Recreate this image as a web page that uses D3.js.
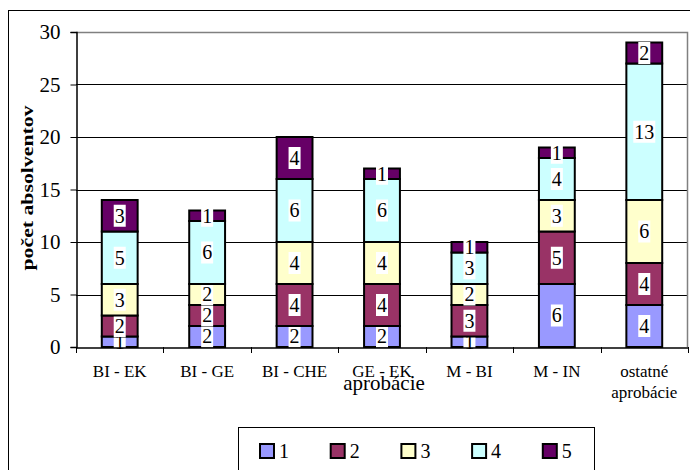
<!DOCTYPE html>
<html>
<head>
<meta charset="utf-8">
<script src="https://cdn.jsdelivr.net/npm/d3@7"></script>
<style>
    body { margin: 0; background: #fff; }
</style>
</head>
<body>
<div id="chart"></div>
<script>
// kategórie (aprobácie) a hodnoty pre sériu 1..5
const categories = ["BI - EK", "BI - GE", "BI - CHE", "GE - EK", "M - BI", "M - IN", "ostatné aprobácie"];
const seriesNames = ["1", "2", "3", "4", "5"];
const s1 = [1, 2, 2, 2, 1, 6, 4];
const s2 = [2, 2, 4, 4, 3, 5, 4];
const s3 = [3, 2, 4, 4, 2, 3, 6];
const s4 = [5, 6, 6, 6, 3, 4, 13];
const s5 = [3, 1, 4, 1, 1, 1, 2];
const yTicks = [0, 5, 10, 15, 20, 25, 30];
const colors = ["#9999FF", "#993366", "#FFFFCC", "#CCFFFF", "#660066"];

const FONT = "'Liberation Serif', 'Times New Roman', serif";

function drawChart() {
    const width = 690;
    const height = 470;
    const margin = { top: 32, bottom: 123, left: 76, right: 2 };

    const data = categories.map((c, i) => ({
        cat: c, "1": s1[i], "2": s2[i], "3": s3[i], "4": s4[i], "5": s5[i]
    }));

    const svg = d3.select("#chart")
        .append("svg")
        .attr("width", width)
        .attr("height", height)
        .attr("font-family", FONT);

    // vonkajší rámik
    svg.append("rect")
        .attr("x", 8.5).attr("y", 10.5)
        .attr("width", 700).attr("height", 500)
        .attr("fill", "none").attr("stroke", "#000").attr("stroke-width", 1);

    const x = d3.scaleBand()
        .domain(categories)
        .range([margin.left, width - margin.right]);

    const y = d3.scaleLinear()
        .domain([0, 30])
        .range([height - margin.bottom, margin.top]);

    const x0 = margin.left, x1 = width - margin.right;

    // mriežka
    svg.append("g")
        .selectAll("line")
        .data(yTicks.filter(t => t > 0 && t < 30))
        .enter().append("line")
        .attr("x1", x0).attr("x2", x1)
        .attr("y1", d => Math.round(y(d)) + 0.5)
        .attr("y2", d => Math.round(y(d)) + 0.5)
        .attr("stroke", "#000").attr("stroke-width", 1);

    // okraj plochy grafu (sivý)
    svg.append("path")
        .attr("d", `M${x0},${Math.round(y(30)) + 0.5}H${x1 - 0.5}V${Math.round(y(0))}`)
        .attr("fill", "none").attr("stroke", "#808080").attr("stroke-width", 1.5);

    const stack = d3.stack().keys(seriesNames)(data);

    const barW = x.bandwidth() * 0.41;

    const layers = svg.selectAll(".layer")
        .data(stack)
        .enter().append("g")
        .attr("class", "layer")
        .attr("fill", (d, i) => colors[i]);

    layers.selectAll("rect")
        .data(d => d)
        .enter().append("rect")
        .attr("x", d => x(d.data.cat) + (x.bandwidth() - barW) / 2)
        .attr("y", d => y(d[1]))
        .attr("width", barW)
        .attr("height", d => y(d[0]) - y(d[1]))
        .attr("stroke", "#000")
        .attr("stroke-width", 2);

    // osi
    const yAxis = svg.append("g")
        .attr("transform", `translate(${x0 + 0.5},0)`)
        .call(d3.axisLeft(y).tickValues(yTicks).tickSize(6).tickPadding(10));
    yAxis.attr("font-family", null);
    yAxis.select(".domain").attr("stroke", "#000").attr("stroke-width", 1.5);
    yAxis.selectAll("text").style("font-size", "21px").style("font-family", FONT).attr("fill", "#000");

    const xAxis = svg.append("g")
        .attr("transform", `translate(0,${Math.round(y(0)) + 0.5})`)
        .call(d3.axisBottom(x).tickSize(0).tickFormat(""));
    xAxis.select(".domain").attr("stroke", "#000").attr("stroke-width", 1.5);

    // značky medzi kategóriami
    svg.append("g")
        .selectAll("line")
        .data(categories.concat(["end"]))
        .enter().append("line")
        .attr("x1", (d, i) => Math.round(x0 + i * x.step()) + 0.5)
        .attr("x2", (d, i) => Math.round(x0 + i * x.step()) + 0.5)
        .attr("y1", y(0)).attr("y2", y(0) + 6)
        .attr("stroke", "#000");

    // popisy kategórií
    const labels = svg.append("g")
        .selectAll("text")
        .data(categories)
        .enter().append("text")
        .attr("x", d => x(d) + x.bandwidth() / 2)
        .attr("y", 377)
        .attr("text-anchor", "middle")
        .style("font-family", FONT)
        .style("font-size", "17px");
    labels.each(function(d) {
        const parts = d === "ostatné aprobácie" ? ["ostatné", "aprobácie"] : [d];
        parts.forEach((p, i) => {
            d3.select(this).append("tspan")
                .attr("x", x(d) + x.bandwidth() / 2)
                .attr("dy", i === 0 ? 0 : 21)
                .text(p);
        });
    });

    // popisy hodnôt s bielym pozadím
    const valueLabels = layers.selectAll(".vl")
        .data(d => d)
        .enter().append("g")
        .attr("class", "vl")
        .attr("transform", d => `translate(${x(d.data.cat) + x.bandwidth() / 2},${(y(d[0]) + y(d[1])) / 2})`);

    valueLabels.append("rect")
        .attr("x", d => -String(d[1] - d[0]).length * 5 - 1)
        .attr("y", -11)
        .attr("width", d => String(d[1] - d[0]).length * 10 + 2)
        .attr("height", 22)
        .attr("fill", "#fff");

    valueLabels.append("text")
        .attr("text-anchor", "middle")
        .attr("dy", "0.34em")
        .attr("fill", "#000")
        .style("font-family", FONT)
        .style("font-size", "20px")
        .text(d => d[1] - d[0]);

    // názvy osí
    svg.append("text")
        .attr("transform", "rotate(-90)")
        .attr("x", -188)
        .attr("y", 33)
        .attr("text-anchor", "middle")
        .attr("textLength", 165)
        .attr("lengthAdjust", "spacingAndGlyphs")
        .style("font-family", FONT)
        .style("font-size", "17px")
        .style("font-weight", "bold")
        .text("počet absolventov");

    svg.append("text")
        .attr("x", (x0 + x1) / 2 + 2)
        .attr("y", 390)
        .attr("text-anchor", "middle")
        .style("font-family", FONT)
        .style("font-size", "21px")
        .text("aprobácie");

    // legenda
    const legend = svg.append("g");
    legend.append("rect")
        .attr("x", 238.5).attr("y", 427.5)
        .attr("width", 356).attr("height", 60)
        .attr("fill", "#fff").attr("stroke", "#000");

    const items = legend.selectAll(".item")
        .data(seriesNames)
        .enter().append("g")
        .attr("class", "item")
        .attr("transform", (d, i) => `translate(${260 + i * 70.7},451)`);

    items.append("rect")
        .attr("x", 0).attr("y", -7)
        .attr("width", 14).attr("height", 14)
        .attr("fill", (d, i) => colors[i])
        .attr("stroke", "#000").attr("stroke-width", 2);

    items.append("text")
        .attr("x", 19)
        .attr("y", 7)
        .style("font-family", FONT)
        .style("font-size", "20px")
        .text(d => d);
}

document.addEventListener("DOMContentLoaded", function(event) {
    drawChart();
});
</script>
</body>
</html>
